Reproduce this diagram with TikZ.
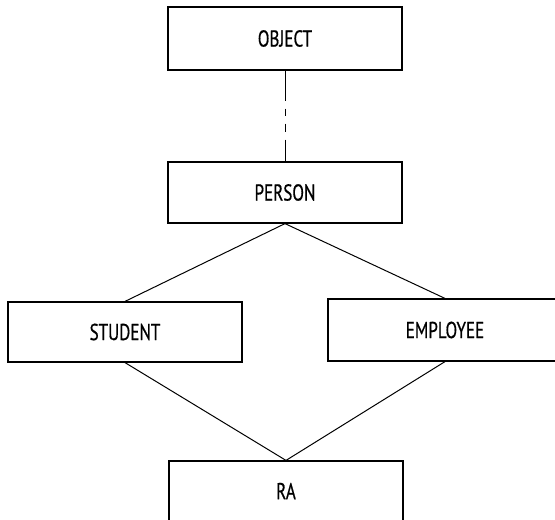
\documentclass[tikz,border=0pt]{standalone}
\usepackage{fontspec}
\newfontfamily\boxfont[FakeStretch=0.74,FakeBold=0.6]{PT Sans}
\begin{document}
\begin{tikzpicture}[x=1pt,y=-1pt,
  classbox/.style={draw, line width=1.2pt, minimum width=234pt, inner sep=0pt,
    font=\boxfont\fontsize{23}{26}\selectfont},
  link/.style={line width=1pt}]
\useasboundingbox (0,0) rectangle (555,520);
\clip (0,0) rectangle (555,520);
\node[classbox, minimum height=63pt] (object)   at (285,38.5)  {OBJECT};
\node[classbox, minimum height=61pt] (person)   at (285,192.5) {PERSON};
\node[classbox, minimum height=60pt] (student)  at (125,332)   {STUDENT};
\node[classbox, minimum height=62pt] (employee) at (445,330)   {EMPLOYEE};
\node[classbox, minimum height=80pt] (ra) at (286,501) {};
\node[font=\boxfont\fontsize{23}{26}\selectfont] (ralabel) at (286,491) {RA};
\draw[link, dash pattern=on 30pt off 8pt on 7pt off 8pt on 8pt off 8pt on 40pt]
  (object.south) -- (person.north);
\draw[link] (student.north) -- (person.south) -- (employee.north);
\draw[link] (student.south) -- (ra.north) -- (employee.south);
\end{tikzpicture}
\end{document}
